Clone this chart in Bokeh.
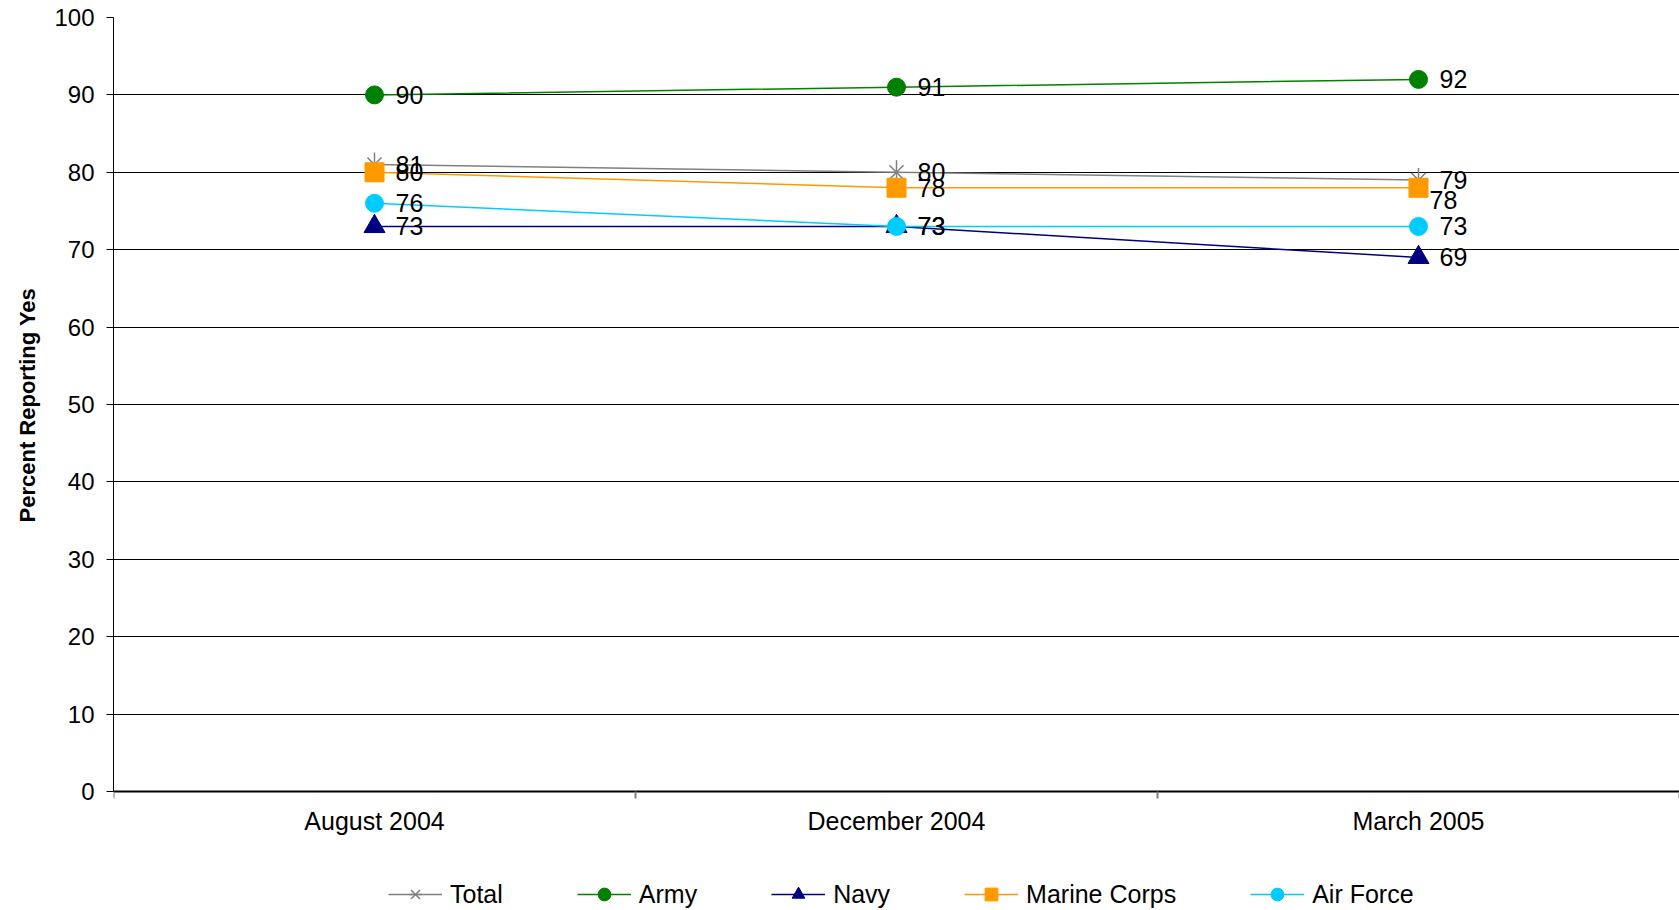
import math
from bokeh.plotting import figure
from bokeh.models import Range1d, FixedTicker, ColumnDataSource, Legend, LegendItem, Title
from bokeh.core.properties import value
from bokeh.embed import file_html
from bokeh.resources import INLINE

# ---------------- data ----------------
categories = ["August 2004", "December 2004", "March 2005"]
series_names = ["Total", "Army", "Navy", "Marine Corps", "Air Force"]
total = [81, 80, 79]
army = [90, 91, 92]
navy = [73, 73, 69]
marine_corps = [80, 78, 78]
air_force = [76, 73, 73]
y_ticks = [0, 10, 20, 30, 40, 50, 60, 70, 80, 90, 100]
y_title = "Percent Reporting Yes"

series_values = [total, army, navy, marine_corps, air_force]

# ---------------- styles / layout ----------------
FONT = "Liberation Sans"
colors = ["#808080", "#008000", "#000080", "#FF9900", "#00CCFF"]
markers = [None, "circle", "triangle", "square", "circle"]
marker_sizes = [20, 18, 21, 19, 18]
label_dx = {("Marine Corps", 2): 10}
label_dy = {("Marine Corps", 2): 12}

W, H = 1679, 910
TOP, LEFT = 17, 113          # frame top / left in pixels
ZERO_PX = 791                # pixel row of the value 0
px_per_unit = (ZERO_PX - TOP) / (y_ticks[-1] - y_ticks[0])
y_start = y_ticks[0] - (H - ZERO_PX) / px_per_unit   # frame extends to the bottom so the legend fits inside

xs = [i + 0.5 for i in range(len(categories))]

p = figure(width=W, height=H,
           x_range=Range1d(0, len(categories)), y_range=Range1d(y_start, y_ticks[-1]),
           output_backend="svg", toolbar_location=None,
           min_border_left=LEFT, min_border_top=TOP, min_border_right=0, min_border_bottom=0)
p.outline_line_color = None
p.background_fill_color = "white"

# x axis drawn at value 0: labels at category centres, small ticks at category boundaries
p.xaxis.fixed_location = y_ticks[0]
p.xaxis.ticker = FixedTicker(ticks=xs, minor_ticks=list(range(len(categories) + 1)))
p.xaxis.major_label_overrides = {x: c for x, c in zip(xs, categories)}
p.xaxis.major_tick_line_color = None
p.xaxis.major_tick_out = 0
p.xaxis.major_tick_in = 0
p.xaxis.minor_tick_out = 7
p.xaxis.minor_tick_in = 0
p.xaxis.minor_tick_line_color = "#808080"
p.xaxis.minor_tick_line_width = 2
p.xaxis.axis_line_color = "black"
p.xaxis.axis_line_width = 2
p.xaxis.major_label_text_font = FONT
p.xaxis.major_label_text_font_size = "25px"
p.xaxis.major_label_text_color = "black"
p.xaxis.major_label_standoff = 8
p.xgrid.visible = False

# y axis
p.yaxis.ticker = FixedTicker(ticks=y_ticks)
p.yaxis.bounds = (y_ticks[0], y_ticks[-1])
p.yaxis.minor_tick_line_color = None
p.yaxis.major_tick_out = 7
p.yaxis.major_tick_in = 0
p.yaxis.major_tick_line_color = "black"
p.yaxis.axis_line_color = "black"
p.yaxis.major_label_text_font = FONT
p.yaxis.major_label_text_font_size = "24px"
p.yaxis.major_label_text_color = "black"
p.yaxis.major_label_standoff = 12
p.ygrid.ticker = FixedTicker(ticks=y_ticks)
p.ygrid.grid_line_color = "black"
p.ygrid.grid_line_width = 1

# y axis title, placed along the 0..100 span (offset measured from the frame bottom)
p.add_layout(Title(text=y_title, align="left", offset=388, standoff=22, vertical_align="middle",
                   text_font=FONT, text_font_size="22px", text_font_style="bold",
                   text_color="black"), "left")

legend_items = []
label_sources = []
for k, (name, vals) in enumerate(zip(series_names, series_values)):
    src = ColumnDataSource(dict(x=xs, y=vals))
    rs = [p.line("x", "y", source=src, line_color=colors[k], line_width=1.5)]
    if markers[k] is None:
        rs.append(p.scatter("x", "y", source=src, marker="x", size=marker_sizes[k],
                            line_color=colors[k], line_width=1.5))
        rs.append(p.scatter("x", "y", source=src, marker="dash", angle=math.pi / 2,
                            size=marker_sizes[k] * 1.2, line_color=colors[k], line_width=1.5))
    else:
        rs.append(p.scatter("x", "y", source=src, marker=markers[k], size=marker_sizes[k],
                            fill_color=colors[k], line_color=colors[k]))
    legend_items.append(LegendItem(label=name, renderers=rs))
    dx = [21 - label_dx.get((name, i), 0) for i in range(len(xs))]
    dy = [label_dy.get((name, i), 0) for i in range(len(xs))]
    label_sources.append(ColumnDataSource(dict(x=xs, y=vals, t=[str(v) for v in vals], dx=dx, dy=dy)))

for src in label_sources:
    p.text("x", "y", text="t", source=src, x_offset="dx", y_offset="dy",
           text_align="left", text_baseline="middle",
           text_font=value(FONT), text_font_size="25px", text_color="black")

legend = Legend(items=legend_items, orientation="horizontal", location=(275, 0),
                glyph_width=54, glyph_height=32, label_standoff=8, spacing=74,
                padding=0, margin=0,
                label_text_font=FONT, label_text_font_size="25px", label_text_color="black",
                background_fill_alpha=0, border_line_color=None)
p.add_layout(legend)

open("out.html", "w").write(file_html(p, INLINE))
